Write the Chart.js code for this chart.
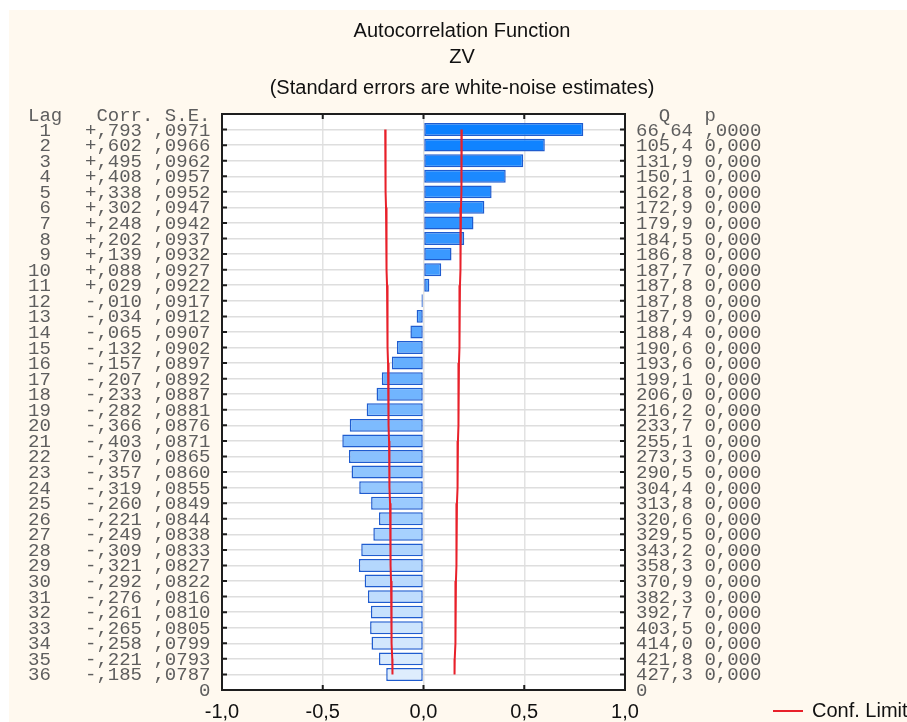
<!DOCTYPE html>
<html>
<head>
<meta charset="utf-8">
<script src="https://cdn.jsdelivr.net/npm/chart.js@4/dist/chart.umd.min.js"></script>
<style>
  body { margin: 0; background: #fff; }
  canvas { display: block; }
</style>
</head>
<body>
<canvas id="acfChart" width="907" height="722"></canvas>
<script>
const lags = [1, 2, 3, 4, 5, 6, 7, 8, 9, 10, 11, 12, 13, 14, 15, 16, 17, 18,
              19, 20, 21, 22, 23, 24, 25, 26, 27, 28, 29, 30, 31, 32, 33, 34, 35, 36];
const corr = [0.793, 0.602, 0.495, 0.408, 0.338, 0.302, 0.248, 0.202, 0.139, 0.088, 0.029, -0.010,
              -0.034, -0.065, -0.132, -0.157, -0.207, -0.233, -0.282, -0.366, -0.403, -0.370, -0.357, -0.319,
              -0.260, -0.221, -0.249, -0.309, -0.321, -0.292, -0.276, -0.261, -0.265, -0.258, -0.221, -0.185];
const stdErr = [0.0971, 0.0966, 0.0962, 0.0957, 0.0952, 0.0947, 0.0942, 0.0937, 0.0932, 0.0927, 0.0922, 0.0917,
                0.0912, 0.0907, 0.0902, 0.0897, 0.0892, 0.0887, 0.0881, 0.0876, 0.0871, 0.0865, 0.0860, 0.0855,
                0.0849, 0.0844, 0.0838, 0.0833, 0.0827, 0.0822, 0.0816, 0.0810, 0.0805, 0.0799, 0.0793, 0.0787];
const confLimit = [0.190, 0.189, 0.189, 0.188, 0.187, 0.186, 0.185, 0.184, 0.183, 0.182, 0.181, 0.180,
                   0.179, 0.178, 0.177, 0.176, 0.175, 0.174, 0.173, 0.172, 0.171, 0.170, 0.169, 0.168,
                   0.166, 0.165, 0.164, 0.163, 0.162, 0.161, 0.160, 0.159, 0.158, 0.157, 0.155, 0.154];
const qStat = [66.64, 105.4, 131.9, 150.1, 162.8, 172.9, 179.9, 184.5, 186.8, 187.7, 187.8, 187.8,
               187.9, 188.4, 190.6, 193.6, 199.1, 206.0, 216.2, 233.7, 255.1, 273.3, 290.5, 304.4,
               313.8, 320.6, 329.5, 343.2, 358.3, 370.9, 382.3, 392.7, 403.5, 414.0, 421.8, 427.3];
const pLabels = [',0000', '0,000', '0,000', '0,000', '0,000', '0,000', '0,000', '0,000', '0,000', '0,000',
                 '0,000', '0,000', '0,000', '0,000', '0,000', '0,000', '0,000', '0,000', '0,000', '0,000',
                 '0,000', '0,000', '0,000', '0,000', '0,000', '0,000', '0,000', '0,000', '0,000', '0,000',
                 '0,000', '0,000', '0,000', '0,000', '0,000', '0,000'];
const titleLines = ['Autocorrelation Function', 'ZV', '(Standard errors are white-noise estimates)'];

// number formatting like the original (comma decimal, no leading zero)
function fmtCorr(v) {
    return (v >= 0 ? '+' : '-') + Math.abs(v).toFixed(3).slice(1).replace('.', ',');
}
function fmtSE(v) {
    return v.toFixed(4).slice(1).replace('.', ',');
}
function fmtQ(v) {
    return (v < 100 ? v.toFixed(2) : v.toFixed(1)).replace('.', ',');
}

// bar fill fades from strong blue (lag 1) to pale blue (lag 36)
const barColors = lags.map((l, i) => {
    const t = i / (lags.length - 1);
    const r = Math.round(10 + t * (222 - 10));
    const g = Math.round(128 + t * (237 - 128));
    const b = Math.round(255 + t * (253 - 255));
    return `rgb(${r},${g},${b})`;
});

const monoFont = '19px "Liberation Mono", "Courier New", monospace';
const sansFont = '20px "Liberation Sans", Arial, sans-serif';

const acfDecor = {
    id: 'acfDecor',
    beforeDraw(chart) {
        const ctx = chart.ctx;
        const a = chart.chartArea;
        ctx.save();
        ctx.fillStyle = '#ffffff';
        ctx.fillRect(0, 0, chart.width, chart.height);
        ctx.fillStyle = '#fff9ef';
        ctx.fillRect(9, 10, chart.width - 9, chart.height - 10);
        ctx.fillStyle = '#ffffff';
        ctx.fillRect(a.left, a.top, a.right - a.left, a.bottom - a.top);
        ctx.restore();
    },
    afterDraw(chart) {
        const ctx = chart.ctx;
        const a = chart.chartArea;
        const xs = chart.scales.x;
        const ys = chart.scales.y;
        ctx.save();

        // frame
        ctx.strokeStyle = '#1e1e1e';
        ctx.lineWidth = 2;
        ctx.strokeRect(a.left, a.top, a.right - a.left, a.bottom - a.top);

        // inward tick marks
        ctx.beginPath();
        ys.ticks.forEach(t => {
            if (t.value <= ys.min || t.value >= ys.max) return;
            const y = ys.getPixelForValue(t.value);
            ctx.moveTo(a.left, y); ctx.lineTo(a.left + 5, y);
            ctx.moveTo(a.right, y); ctx.lineTo(a.right - 5, y);
        });
        xs.ticks.forEach(t => {
            if (t.value <= xs.min || t.value >= xs.max) return;
            const x = xs.getPixelForValue(t.value);
            ctx.moveTo(x, a.top); ctx.lineTo(x, a.top + 5);
            ctx.moveTo(x, a.bottom); ctx.lineTo(x, a.bottom - 5);
        });
        ctx.stroke();

        // x tick labels
        ctx.fillStyle = '#111';
        ctx.font = sansFont;
        ctx.textAlign = 'center';
        ctx.textBaseline = 'middle';
        xs.ticks.forEach(t => {
            ctx.fillText(t.value.toFixed(1).replace('.', ','), xs.getPixelForValue(t.value), a.bottom + 22);
        });

        // titles
        titleLines.forEach((line, i) => {
            ctx.fillText(line, 462, [31, 57, 88][i]);
        });

        // legend
        ctx.strokeStyle = '#e8202a';
        ctx.lineWidth = 2;
        ctx.beginPath();
        ctx.moveTo(773, a.bottom + 21);
        ctx.lineTo(803, a.bottom + 21);
        ctx.stroke();
        ctx.textAlign = 'left';
        ctx.fillText('Conf. Limit', 812, a.bottom + 21);

        // statistics columns beside the plot
        ctx.font = monoFont;
        ctx.fillStyle = '#5e5e5e';
        ctx.textBaseline = 'alphabetic';
        const top = ys.getPixelForValue(0) + 7;
        ctx.fillText('Lag   Corr. S.E.', 28, top);
        ctx.fillText('  Q   p', 636, top);
        lags.forEach((lag, i) => {
            const y = ys.getPixelForValue(lag) + 6;
            const left = String(lag).padStart(2) + '   ' + fmtCorr(corr[i]) + ' ' + fmtSE(stdErr[i]);
            ctx.fillText(left, 28, y);
            ctx.fillText(fmtQ(qStat[i]) + ' ' + pLabels[i], 636, y);
        });
        const bottom = ys.getPixelForValue(ys.max) + 6;
        ctx.fillText('               0', 28, bottom);
        ctx.fillText('0', 636, bottom);

        ctx.restore();
    }
};

const ctx = document.getElementById('acfChart').getContext('2d');
new Chart(ctx, {
    type: 'bar',
    data: {
        datasets: [{
            type: 'bar',
            label: 'Corr.',
            indexAxis: 'y',
            data: lags.map((l, i) => ({ x: corr[i], y: l })),
            backgroundColor: barColors,
            borderColor: '#1f5ccf',
            borderWidth: 1.5,
            borderSkipped: false,
            barPercentage: 0.83,
            categoryPercentage: 1,
            order: 2
        }, {
            type: 'line',
            label: 'Conf. Limit',
            indexAxis: 'y',
            data: lags.map((l, i) => ({ x: confLimit[i], y: l })),
            borderColor: '#e8202a',
            borderWidth: 2,
            pointRadius: 0,
            fill: false,
            tension: 0,
            order: 1
        }, {
            type: 'line',
            label: 'Conf. Limit (lower)',
            indexAxis: 'y',
            data: lags.map((l, i) => ({ x: -confLimit[i], y: l })),
            borderColor: '#e8202a',
            borderWidth: 2,
            pointRadius: 0,
            fill: false,
            tension: 0,
            order: 1
        }]
    },
    options: {
        indexAxis: 'y',
        responsive: false,
        animation: false,
        devicePixelRatio: 1,
        layout: { padding: { left: 222, right: 282, top: 114, bottom: 32 } },
        plugins: {
            legend: { display: false },
            tooltip: { enabled: false }
        },
        scales: {
            x: {
                type: 'linear',
                min: -1,
                max: 1,
                offset: false,
                ticks: { stepSize: 0.5, display: false },
                grid: { color: '#e2e2e2', lineWidth: 1.5, drawTicks: false, offset: false },
                border: { display: false }
            },
            y: {
                type: 'linear',
                reverse: true,
                min: 0,
                max: 37,
                offset: false,
                ticks: { stepSize: 1, display: false },
                grid: { color: '#dedede', lineWidth: 1.5, drawTicks: false, offset: false },
                border: { display: false }
            }
        }
    },
    plugins: [acfDecor]
});
</script>
</body>
</html>
